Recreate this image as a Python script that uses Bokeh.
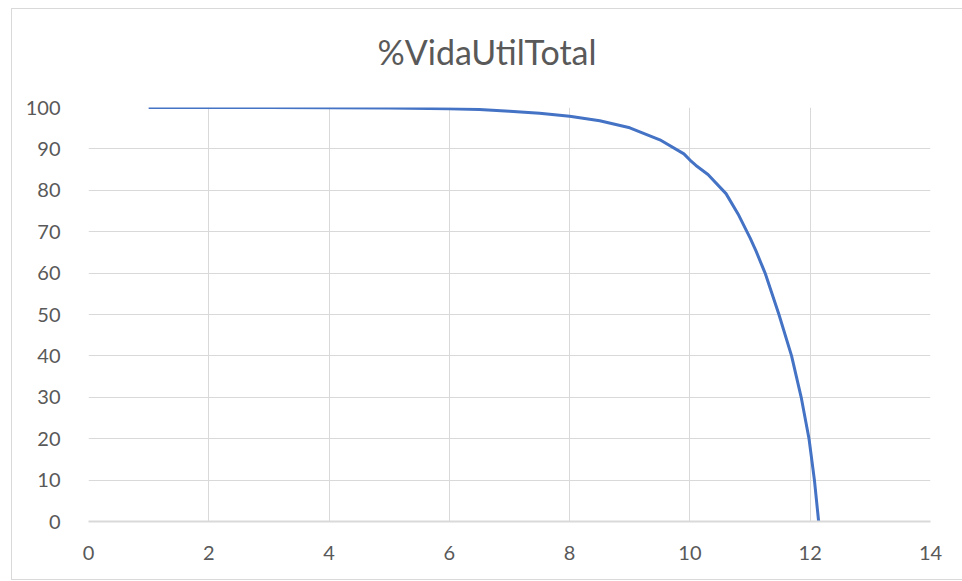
from bokeh.plotting import figure
from bokeh.models import FixedTicker, Range1d, Div
from bokeh.layouts import column
from bokeh.embed import file_html
from bokeh.resources import INLINE

# Data
x_vals = [1, 2, 3, 4, 5, 6, 6.5, 7, 7.5, 8, 8.5, 9, 9.5, 9.9, 10.0, 10.1, 10.3,
          10.6, 10.8, 11.0, 11.1, 11.25, 11.48, 11.69, 11.85, 11.98, 12.07, 12.14]
y_vals = [100, 100, 100, 99.95, 99.9, 99.7, 99.5, 99.1, 98.6, 97.9, 96.8, 95.1,
          92.2, 88.8, 87.3, 86.0, 83.8, 79.2, 74.3, 68.5, 65.3, 60, 50, 40, 30,
          20, 10, 0]
x_ticks = [0, 2, 4, 6, 8, 10, 12, 14]
y_ticks = [0, 10, 20, 30, 40, 50, 60, 70, 80, 90, 100]
title_text = "%VidaUtilTotal"

FONT = "Lato"
GRAY = "#595959"
GRID = "#d9d9d9"

TITLE_H = 86

title_div = Div(text=title_text, width=950, height=TITLE_H, margin=0,
                styles={"font-family": FONT, "font-size": "34px",
                        "color": GRAY, "text-align": "center",
                        "line-height": f"{TITLE_H}px",
                        "background-color": "white"})

p = figure(width=950, height=570 - TITLE_H, output_backend="svg",
           toolbar_location=None,
           x_range=Range1d(0, 14), y_range=Range1d(0, 100),
           min_border_left=76, min_border_right=32,
           min_border_top=98 - TITLE_H, min_border_bottom=58)
p.margin = 0

p.line(x_vals, y_vals, line_color="#4472C4", line_width=3)

p.xaxis.ticker = FixedTicker(ticks=x_ticks)
p.yaxis.ticker = FixedTicker(ticks=y_ticks)
for ax in (p.xaxis, p.yaxis):
    ax.major_tick_line_color = None
    ax.minor_tick_line_color = None
    ax.major_label_text_font = FONT
    ax.major_label_text_font_size = "20px"
    ax.major_label_text_color = GRAY
p.xaxis.axis_line_color = GRID
p.xaxis.axis_line_width = 2
p.yaxis.axis_line_color = None
p.xaxis.major_label_standoff = 18
p.yaxis.major_label_standoff = 22

p.xgrid.grid_line_color = GRID
p.ygrid.grid_line_color = GRID
p.xgrid.ticker = FixedTicker(ticks=x_ticks)
p.ygrid.ticker = FixedTicker(ticks=y_ticks)
p.outline_line_color = None
p.background_fill_color = "white"
p.border_fill_color = "white"

layout = column(title_div, p, spacing=0)
layout.margin = (8, 0, 0, 11)
layout.styles = {"border": "1px solid #d9d9d9", "background-color": "white"}

open("out.html", "w").write(file_html(layout, INLINE))
